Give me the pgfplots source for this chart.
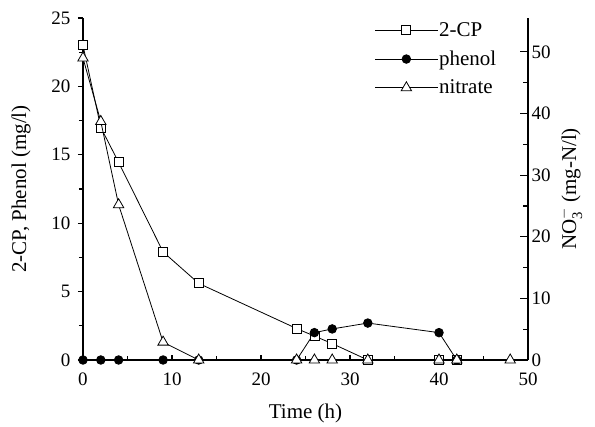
\documentclass[border=0pt]{standalone}
\usepackage{amsmath}
\usepackage{fontspec}
\setmainfont{Liberation Serif}
\usepackage{pgfplots}
\pgfplotsset{compat=1.18}
\begin{document}
\begin{tikzpicture}
\useasboundingbox (-83pt,-67pt) rectangle (512pt,360pt);
\pgfplotsset{
  base/.style={scale only axis, width=445pt, height=342pt, xmin=0, xmax=50, clip=false,
    /pgf/number format/assume math mode=true,
    tick label style={font=\fontsize{19}{22}\selectfont},
    label style={font=\fontsize{21}{24}\selectfont},
    axis line style={line width=1.6pt},
    every tick/.style={line width=1.2pt, black},
  },
}
% bottom x axis
\begin{axis}[base, ymin=0, ymax=25, axis x line*=bottom, hide y axis,
  xtick={0,10,...,50}, minor x tick num=1, tick align=inside,
  major tick length=5pt, minor tick length=4pt,
  xticklabel style={yshift=-9pt},
  xlabel={Time (h)}, xlabel style={yshift=-12pt}]
\end{axis}
% left y axis
\begin{axis}[base, ymin=0, ymax=25, axis y line*=left, hide x axis,
  ytick={0,5,...,25}, minor y tick num=1, tick align=outside,
  major tick length=5pt, minor tick length=4pt,
  yticklabel style={xshift=-4pt},
  ylabel={2-CP, Phenol (mg/l)}, ylabel style={yshift=14pt}]
\addplot[black, line width=0.8pt, mark=square*, mark size=4.5pt, mark options={fill=white, line width=0.8pt}] coordinates {
(0,23.0) (2,17.0) (4,14.45) (9,7.9) (13,5.6) (24,2.3) (26,1.75) (28,1.2) (32,0) (40,0) (42,0)
};
\addplot[black, line width=0.8pt, mark=*, mark size=4.3pt] coordinates {
(0,0) (2,0) (4,0) (9,0) (13,0) (24,0) (26,2.0) (28,2.27) (32,2.7) (40,2.0) (42,0)
};
\end{axis}
% right y axis
\begin{axis}[base, ymin=0, ymax=55.5, axis y line*=right, hide x axis,
  ytick={0,10,...,50}, minor y tick num=1, tick align=inside,
  major tick length=8pt, minor tick length=5pt,
  ylabel={NO$_{\text{3}}^{-}$ (mg-N/l)}, ylabel style={yshift=-2pt},
  legend style={draw=none, fill=none, at={(rel axis cs:0.655,0.99)}, anchor=north west,
    font=\fontsize{21}{24}\selectfont, nodes={font=\fontsize{21}{24}\selectfont, inner sep=1pt},
    row sep=11pt, inner sep=0pt},
  legend cell align=left,
  legend image code/.code={\draw[mark repeat=2,mark phase=2] plot coordinates {(0cm,0cm)(1.1cm,0cm)(2.2cm,0cm)};}]
\addlegendimage{black, line width=0.8pt, mark=square*, mark size=4.5pt, mark options={fill=white, line width=0.8pt}}
\addlegendentry{2-CP}
\addlegendimage{black, line width=0.8pt, mark=*, mark size=4.3pt}
\addlegendentry{phenol}
\addplot[black, line width=0.8pt, mark=triangle*, mark size=6pt, mark options={fill=white, line width=0.8pt}] coordinates {
(0,49.0) (2,38.7) (4,25.2) (9,2.9) (13,0) (24,0) (26,0) (28,0) (32,0) (40,0) (42,0) (48,0)
};
\addlegendentry{nitrate}
\end{axis}
\end{tikzpicture}
\end{document}
